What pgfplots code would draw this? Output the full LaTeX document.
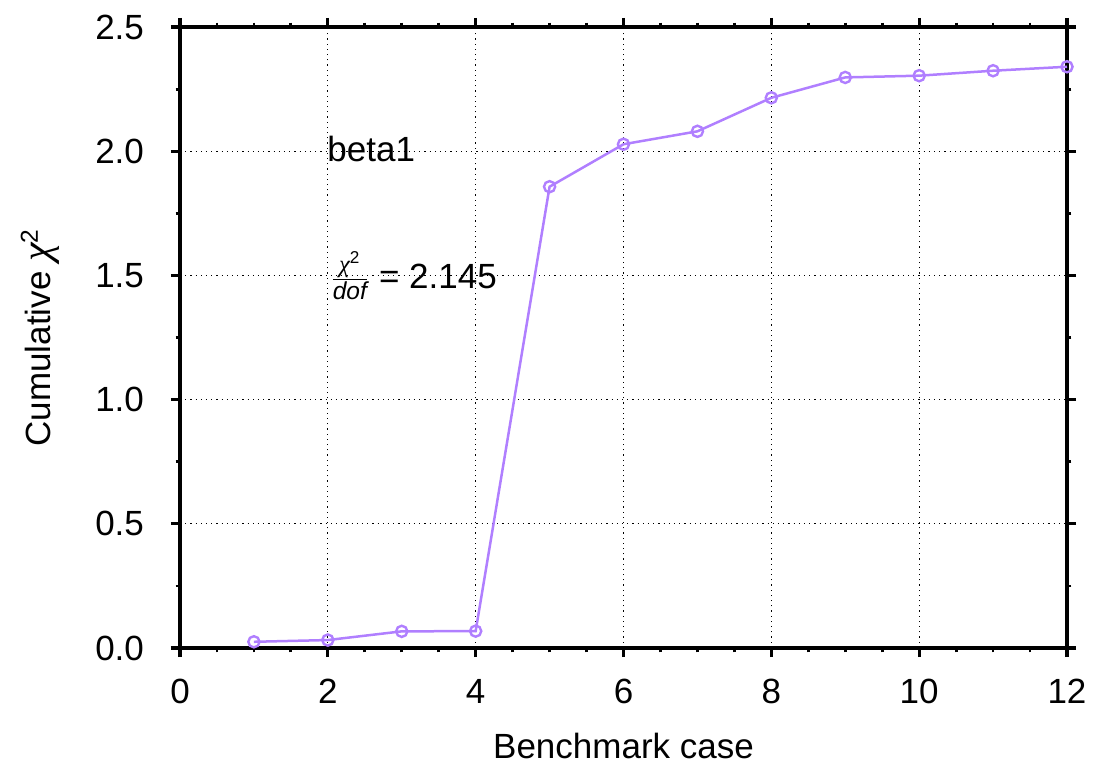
\documentclass[border=0pt]{standalone}
\usepackage{fontspec}
\setmainfont{Liberation Sans}
\newfontfamily\symfont{Liberation Serif}
\usepackage{amsmath}
\usepackage{pgfplots}
\pgfplotsset{compat=1.18}
\definecolor{lav}{HTML}{B07FFF}
\begin{document}
\fontsize{17.5}{21}\selectfont
\begin{tikzpicture}
\begin{axis}[
  scale only axis,
  width=443.5pt, height=310.5pt,
  xmin=0, xmax=12, ymin=0, ymax=2.5,
  xtick={0,2,...,12},
  ytick={0,0.5,...,2.5},
  minor x tick num=3,
  minor y tick num=1,
  tick align=outside,
  major tick length=4.5pt,
  minor tick length=2.2pt,
  every major tick/.style={line width=1.6pt, black},
  every minor tick/.style={line width=1.4pt, black},
  axis line style={line width=2pt},
  xmajorgrids, ymajorgrids,
  grid style={black, line width=0.6pt, dash pattern=on 0.6pt off 2pt},
  /pgf/number format/assume math mode=true,
  ticklabel style={font=\fontsize{17.5}{21}\selectfont},
  yticklabel style={/pgf/number format/fixed, /pgf/number format/fixed zerofill, /pgf/number format/precision=1, xshift=-7.5pt},
  xticklabel style={yshift=-5pt},
  xlabel={Benchmark case},
  ylabel={Cumulative {\symfont\itshape\fontsize{21}{21}\selectfont χ}\textsuperscript{2}},
  label style={font=\fontsize{17.5}{21}\selectfont},
  xlabel style={at={([yshift=-49pt]axis description cs:0.5,0)}, anchor=center},
  ylabel style={at={([xshift=-70pt]axis description cs:0,0.5)}, anchor=center},
  clip=false,
]
\addplot[color=lav, line width=1.25pt, mark=o, mark size=2.8pt, mark options={line width=1.2pt, fill=none}]
coordinates {
(1,0.025) (2,0.032) (3,0.067) (4,0.068) (5,1.857) (6,2.028)
(7,2.080) (8,2.215) (9,2.297) (10,2.304) (11,2.324) (12,2.340)
};
\node[anchor=base west, inner sep=0pt] at (axis cs:1.99,1.957) {beta1};
\node[anchor=base west, inner sep=0pt] at (axis cs:2.03,1.449) {$\frac{\text{{\symfont\itshape χ}\textsuperscript{2}}}{\text{\itshape dof}}$ = 2.145};
\end{axis}
\path ([shift={(-90pt,-57.5pt)}]current axis.south west) rectangle ([shift={(470pt,324pt)}]current axis.south west);
\end{tikzpicture}
\end{document}
